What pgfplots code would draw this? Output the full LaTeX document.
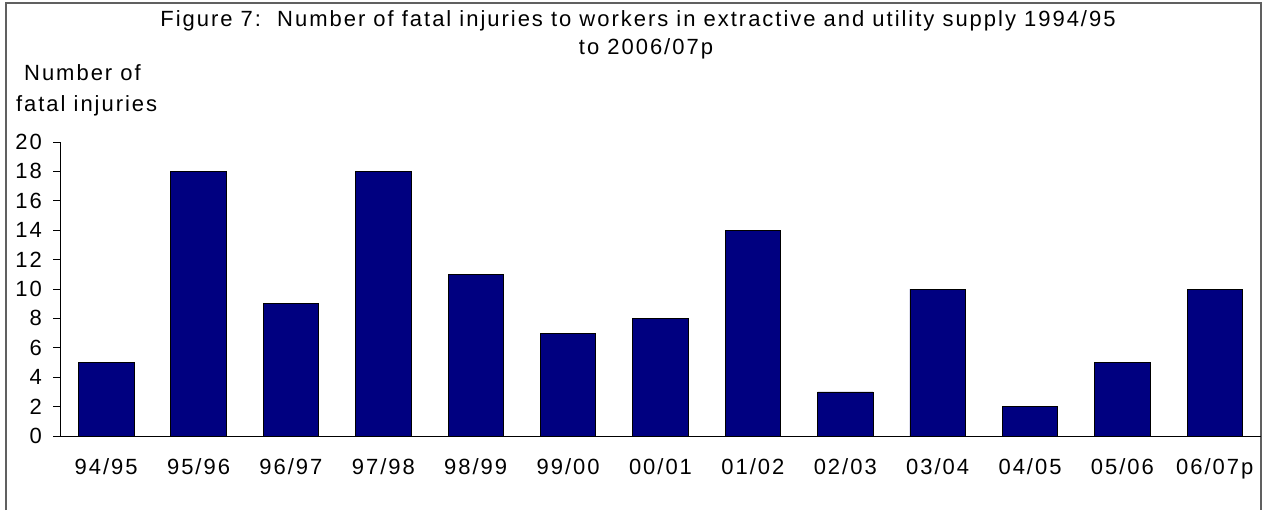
\documentclass[border=0pt]{standalone}
\usepackage{pgfplots}
\pgfplotsset{compat=1.18}
\usepackage{fontspec}
\setmainfont{Liberation Sans}[LetterSpace=9]
\definecolor{barnavy}{HTML}{000080}
\definecolor{framegray}{HTML}{606060}
\begin{document}
\begin{tikzpicture}
\useasboundingbox (0pt,0pt) rectangle (631.5pt,255pt);
\draw[framegray, line width=0.8pt] (3pt,0pt) -- (3pt,253.5pt) -- (630.5pt,253.5pt) -- (630.5pt,0pt);
\node[align=center, font=\fontsize{11}{14}\selectfont] at (319pt,237.5pt)
  {Figure 7:\ \ Number of fatal injuries to workers in extractive and utility supply 1994/95\\\hspace*{8pt}to 2006/07p};
\node[align=left, anchor=west, font=\fontsize{11}{15.5}\selectfont] at (4.5pt,210pt)
  {\ Number of\\fatal injuries};
\begin{axis}[
  at={(30pt,37pt)}, anchor=south west,
  scale only axis, width=600.5pt, height=147pt,
  xmin=-0.5, xmax=12.5, ymin=0, ymax=20,
  axis x line=bottom, axis y line=left,
  axis line style={-, black, line width=0.5pt},
  ytick={0,2,...,20},
  xtick={0,...,12},
  xticklabels={94/95,95/96,96/97,97/98,98/99,99/00,00/01,01/02,02/03,03/04,04/05,05/06,06/07p},
  x tick style={draw=none},
  y tick style={black, line width=0.5pt},
  tick align=outside, major tick length=3.5pt,
  extra x ticks={-0.5,0.5,...,12.5},
  extra x tick labels={},
  extra x tick style={tick style={draw=black, line width=0.5pt}, major tick length=2.5pt},
  /pgf/number format/assume math mode=true,
  ticklabel style={font=\fontsize{11}{13}\selectfont},
  xticklabel style={yshift=-4pt},
  yticklabel style={xshift=-2pt},
  clip=false,
]
\addplot[ybar, bar width=0.6, fill=barnavy, draw=black, line width=0.4pt]
coordinates {(0,5) (1,18) (2,9) (3,18) (4,11) (5,7) (6,8) (7,14) (8,3) (9,10) (10,2) (11,5) (12,10)};
\end{axis}
\end{tikzpicture}
\end{document}
